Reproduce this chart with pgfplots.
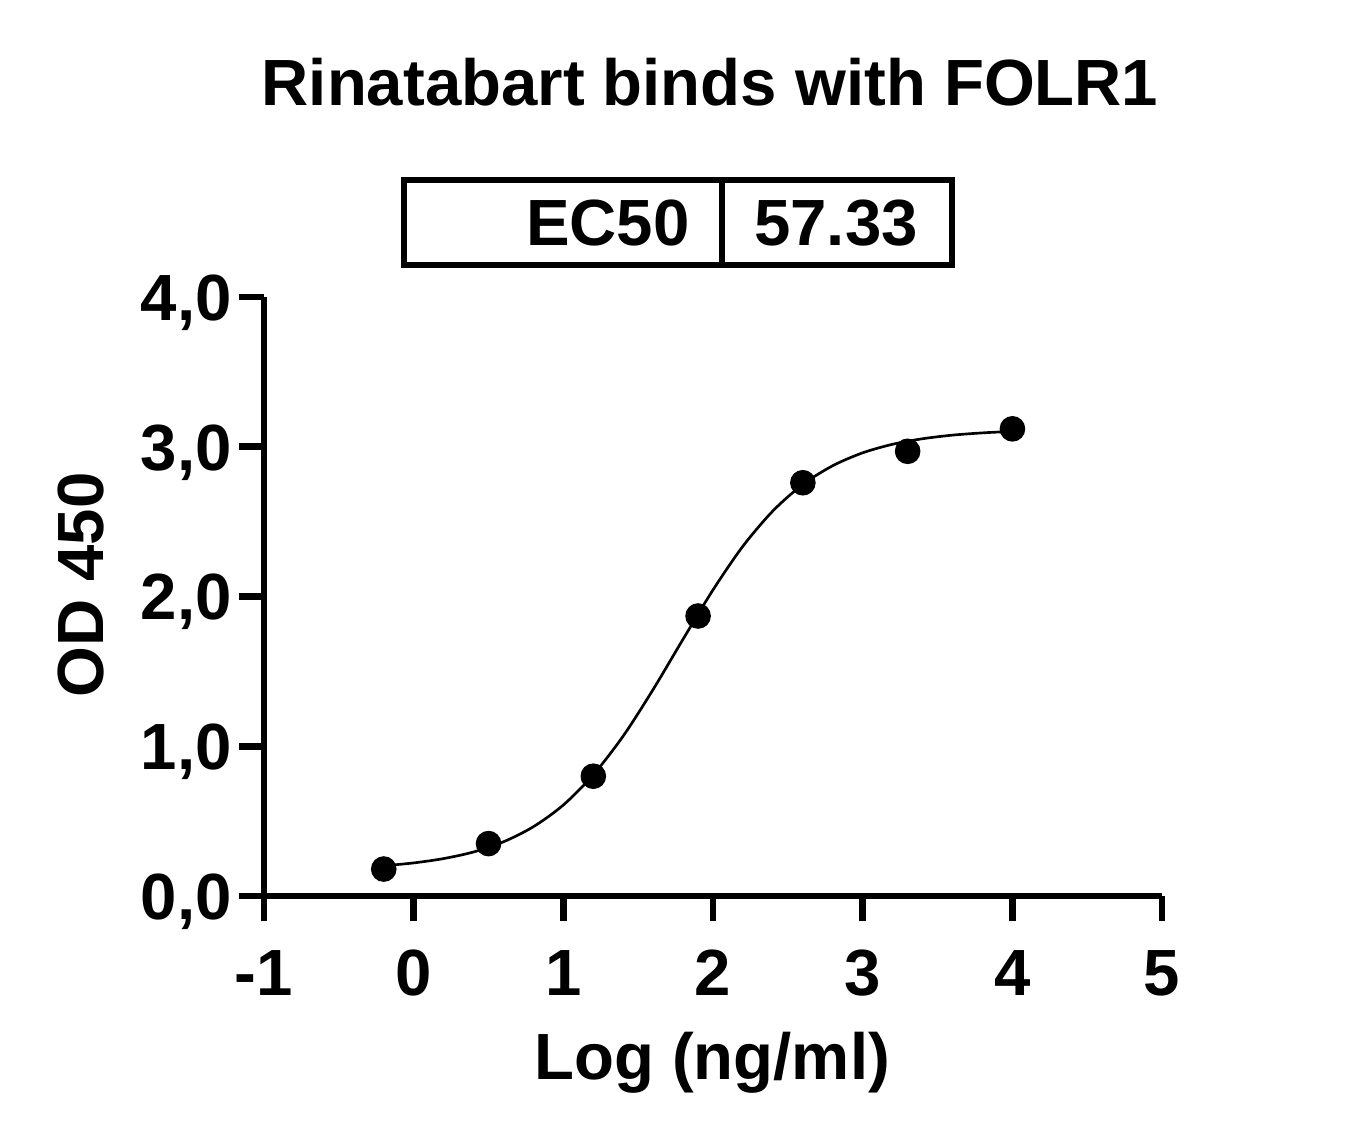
\documentclass[border=0pt]{standalone}
\usepackage{fontspec}
\setmainfont{Liberation Sans}
\usepackage{pgfplots}
\pgfplotsset{compat=1.18}
\begin{document}
\fontsize{24.5pt}{29pt}\selectfont\bfseries
\begin{tikzpicture}[x=1pt,y=1pt]
\useasboundingbox (-99,-92.25) rectangle (411.75,336);
\begin{axis}[
  at={(0,0)}, anchor=south west,
  scale only axis, width=336.8pt, height=224.6pt,
  xmin=-1, xmax=5, ymin=0, ymax=4,
  axis x line=bottom, axis y line=left,
  axis line style={-, line width=2.5pt, black},
  xtick={-1,0,1,2,3,4,5},
  xticklabels={-1,0,1,2,3,4,5},
  ytick={0,1,2,3,4},
  yticklabels={{0,0},{1,0},{2,0},{3,0},{4,0}},
  tick align=outside,
  major tick length=9.4pt,
  every tick/.style={line width=2.5pt, black},
  xticklabel style={font=\fontsize{24.5pt}{29pt}\selectfont\bfseries, text height=0.716em, text depth=0pt, yshift=-2pt},
  yticklabel style={font=\fontsize{24.5pt}{29pt}\selectfont\bfseries, text height=0.716em, text depth=0pt, xshift=5.6pt},
  xlabel={Log (ng/ml)},
  ylabel={OD 450},
  xlabel style={font=\fontsize{24.5pt}{29pt}\selectfont\bfseries, at={(axis description cs:0.499,-0.2787)}, anchor=center},
  ylabel style={font=\fontsize{24.5pt}{29pt}\selectfont\bfseries, at={(axis description cs:-0.2037,0.519)}, anchor=center},
  clip=false,
]
\addplot[black, line width=1pt, smooth, no markers] coordinates {
(-0.2,0.202) (0.0,0.221) (0.2,0.250) (0.4,0.294) (0.6,0.362) (0.8,0.463)
(1.0,0.608) (1.2,0.810) (1.4,1.069) (1.6,1.380) (1.8,1.716) (2.0,2.045)
(2.2,2.337) (2.4,2.572) (2.6,2.749) (2.8,2.874) (3.0,2.960) (3.2,3.017)
(3.4,3.054) (3.6,3.078) (3.8,3.093) (4.0,3.103)
};
\addplot[only marks, mark=*, mark size=4.6pt, black] coordinates {
(-0.2,0.18) (0.5,0.35) (1.2,0.80) (1.9,1.87) (2.6,2.76) (3.3,2.97) (4.0,3.12)
};
\end{axis}
\node[anchor=center, inner sep=0pt, text depth=0pt] at (167.25,305.25) {Rinatabart binds with FOLR1};
\draw[line width=2.1pt] (52.5,236.6) rectangle (258,268.5);
\draw[line width=2.1pt] (171.75,236.6) -- (171.75,268.5);
\node[anchor=east, inner sep=0pt, text height=0.716em, text depth=0pt] at (159.75,252.6) {EC50};
\node[anchor=center, inner sep=0pt, text height=0.716em, text depth=0pt] at (214.5,252.6) {57.33};
\end{tikzpicture}
\end{document}
